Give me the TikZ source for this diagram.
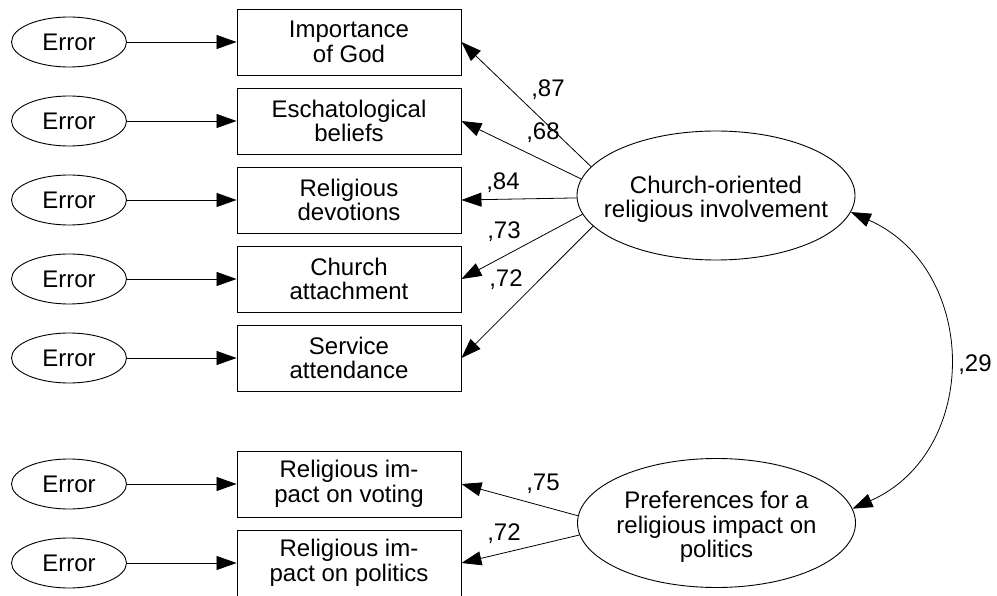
\documentclass[tikz,border=0pt]{standalone}
\usepackage{fontspec}
\setmainfont{Liberation Sans}
\usetikzlibrary{arrows.meta,shapes.geometric}
\begin{document}
\begin{tikzpicture}[x=1pt,y=1pt,
  every node/.style={font=\fontsize{24}{24.5}\selectfont},
  err/.style={draw, ellipse, minimum width=115, minimum height=50, inner sep=0pt, line width=0.9pt},
  obs/.style={draw, rectangle, minimum width=224, minimum height=66, inner sep=0pt, align=center, line width=0.9pt},
  lat/.style={draw, ellipse, minimum width=278, minimum height=129, inner sep=0pt, line width=0.9pt},
  lattext/.style={align=center, inner sep=0pt, yshift=-4pt},
  arr/.style={-{Triangle[length=20pt,width=14pt]}, line width=0.8pt},
  dblarr/.style={{Triangle[length=20pt,width=14pt]}-{Triangle[length=20pt,width=14pt]}, line width=0.8pt},
  coef/.style={inner sep=0pt}
]
\useasboundingbox (0,0) rectangle (997,-596);

% error terms
\node[err] (e1) at (69,-42) {Error};
\node[err] (e2) at (69,-121) {Error};
\node[err] (e3) at (69,-200) {Error};
\node[err] (e4) at (69,-279) {Error};
\node[err] (e5) at (69,-358) {Error};
\node[err] (e6) at (69,-484) {Error};
\node[err] (e7) at (69,-563) {Error};

% observed variables
\node[obs] (o1) at (349,-42) {Importance\\of God};
\node[obs] (o2) at (349,-121) {Eschatological\\beliefs};
\node[obs] (o3) at (349,-200) {Religious\\devotions};
\node[obs] (o4) at (349,-279) {Church\\attachment};
\node[obs] (o5) at (349,-358) {Service\\attendance};
\node[obs] (o6) at (349,-484) {Religious im-\\pact on voting};
\node[obs] (o7) at (349,-563) {Religious im-\\pact on politics};

% latent variables
\node[lat, label={[lattext]center:{Church-oriented\\religious involvement}}] (church) at (716,-195.5) {};
\node[lat, label={[lattext]center:{Preferences for a\\religious impact on\\politics}}] (pref) at (716.5,-523) {};

% error arrows
\draw[arr] (e1) -- (o1);
\draw[arr] (e2) -- (o2);
\draw[arr] (e3) -- (o3);
\draw[arr] (e4) -- (o4);
\draw[arr] (e5) -- (o5);
\draw[arr] (e6) -- (o6);
\draw[arr] (e7) -- (o7);

% loadings
\draw[arr] (church.167) -- (o1.east);
\draw[arr] (church.173) -- (o2.east);
\draw[arr] (church.181) -- (o3.east);
\draw[arr] (church.188) -- (o4.east);
\draw[arr] (church.194) -- (o5.east);
\draw[arr] (pref.177) -- (o6.east);
\draw[arr] (pref.185) -- (o7.east);

% correlation
\draw[dblarr] (church.-7) to[out=-24, in=24, looseness=1.21] (pref.6);

% coefficients
\node[coef] (c1) at (548,-90) {,87};
\node[coef] (c2) at (543,-133) {,68};
\node[coef] (c3) at (503,-183) {,84};
\node[coef] (c4) at (504,-232) {,73};
\node[coef] (c5) at (506,-280) {,72};
\node[coef] (c6) at (543,-484) {,75};
\node[coef] (c7) at (504,-534) {,72};
\node[coef] (c8) at (975,-365) {,29};
\end{tikzpicture}
\end{document}
